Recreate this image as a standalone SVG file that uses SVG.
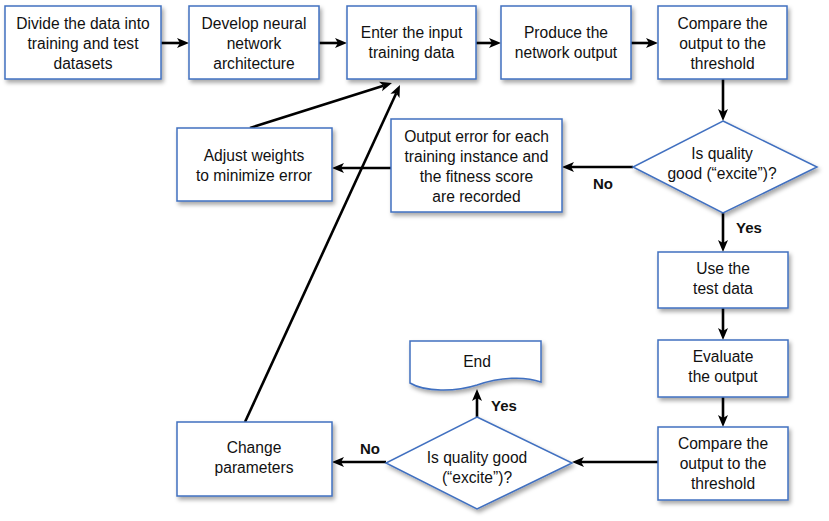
<svg xmlns="http://www.w3.org/2000/svg" width="829" height="521" viewBox="0 0 829 521">
<defs>
<filter id="sh" x="-10%" y="-10%" width="130%" height="140%">
<feDropShadow dx="2" dy="3" stdDeviation="2" flood-color="#000" flood-opacity="0.35"/>
</filter>
<marker id="ah" markerUnits="userSpaceOnUse" markerWidth="14" markerHeight="12" viewBox="0 0 14 12" refX="3" refY="6" orient="auto">
<path d="M0,1 L12,6 L0,11 L3,6 Z" fill="#000"/>
</marker>
<style>
.b{fill:#fff;stroke:#4170c0;stroke-width:1.5;filter:url(#sh)}
.t{font-family:"Liberation Sans",Arial,Helvetica,sans-serif;font-size:15.6px;fill:#111;text-anchor:middle}
.l{font-family:"Liberation Sans",Arial,Helvetica,sans-serif;font-size:15px;font-weight:bold;fill:#111;text-anchor:middle}
.c{stroke:#000;stroke-width:2.6;fill:none;marker-end:url(#ah)}
</style>
</defs>
<rect width="829" height="521" fill="#fff"/>

<g id="connectors">
<line class="c" x1="161" y1="43" x2="180" y2="43"/>
<line class="c" x1="319" y1="43" x2="338" y2="43"/>
<line class="c" x1="476" y1="43" x2="492" y2="43"/>
<line class="c" x1="631" y1="43" x2="649" y2="43"/>
<line class="c" x1="723" y1="79" x2="723" y2="112"/>
<line class="c" x1="633" y1="167" x2="571" y2="167"/>
<line class="c" x1="391" y1="168" x2="341" y2="168"/>
<line class="c" x1="723" y1="213" x2="723" y2="243"/>
<line class="c" x1="723" y1="308" x2="723" y2="331"/>
<line class="c" x1="723" y1="397" x2="723" y2="418"/>
<line class="c" x1="658" y1="462" x2="581" y2="462"/>
<line class="c" x1="386" y1="462" x2="341" y2="462"/>
<line class="c" x1="477" y1="417" x2="477" y2="398"/>
<line class="c" x1="250" y1="128" x2="383.4" y2="85.7"/>
<line class="c" x1="245" y1="422" x2="396.2" y2="93.2"/>
</g>

<g id="n1"><rect class="b" x="5" y="6" width="156" height="73"/>
<text class="t" x="83" y="29">Divide the data into</text><text class="t" x="83" y="49">training and test</text><text class="t" x="83" y="69">datasets</text></g>

<g id="n2"><rect class="b" x="189" y="6" width="130" height="73"/>
<text class="t" x="254" y="29">Develop neural</text><text class="t" x="254" y="49">network</text><text class="t" x="254" y="69">architecture</text></g>

<g id="n3"><rect class="b" x="347" y="6" width="129" height="73"/>
<text class="t" x="411.5" y="38">Enter the input</text><text class="t" x="411.5" y="58">training data</text></g>

<g id="n4"><rect class="b" x="501" y="6" width="130" height="73"/>
<text class="t" x="566" y="38">Produce the</text><text class="t" x="566" y="58">network output</text></g>

<g id="n5"><rect class="b" x="658" y="6" width="129" height="73"/>
<text class="t" x="722.5" y="29">Compare the</text><text class="t" x="722.5" y="49">output to the</text><text class="t" x="722.5" y="69">threshold</text></g>

<g id="d1"><polygon class="b" points="723,121 817,167 723,213 633,167"/>
<text class="t" x="722" y="159">Is quality</text><text class="t" x="722" y="179">good (“excite”)?</text></g>

<g id="n6"><rect class="b" x="391" y="119" width="171" height="93"/>
<text class="t" x="476.5" y="142">Output error for each</text><text class="t" x="476.5" y="162">training instance and</text><text class="t" x="476.5" y="182">the fitness score</text><text class="t" x="476.5" y="202">are recorded</text></g>

<g id="n7"><rect class="b" x="177" y="128" width="155" height="73"/>
<text class="t" x="254" y="161">Adjust weights</text><text class="t" x="254" y="181">to minimize error</text></g>

<g id="n8"><rect class="b" x="658" y="252" width="130" height="56"/>
<text class="t" x="723" y="274">Use the</text><text class="t" x="723" y="294">test data</text></g>

<g id="n9"><rect class="b" x="658" y="340" width="130" height="57"/>
<text class="t" x="723" y="362">Evaluate</text><text class="t" x="723" y="382">the output</text></g>

<g id="n10"><rect class="b" x="658" y="427" width="130" height="73"/>
<text class="t" x="723" y="449">Compare the</text><text class="t" x="723" y="469">output to the</text><text class="t" x="723" y="489">threshold</text></g>

<g id="d2"><polygon class="b" points="477,417 572,463 477,509 386,463"/>
<text class="t" x="477" y="463">Is quality good</text><text class="t" x="477" y="483">(“excite”)?</text></g>

<g id="end"><path class="b" d="M410,341 H541 V382 C525,376 500,377 477,385 C455,392 425,392 410,383 Z"/>
<text class="t" x="477" y="367">End</text></g>

<g id="n11"><rect class="b" x="177" y="422" width="155" height="74"/>
<text class="t" x="254" y="453">Change</text><text class="t" x="254" y="473">parameters</text></g>

<g id="labels">
<text class="l" x="603" y="189">No</text>
<text class="l" x="749" y="233">Yes</text>
<text class="l" x="370" y="454">No</text>
<text class="l" x="504" y="411">Yes</text>
</g>
</svg>
